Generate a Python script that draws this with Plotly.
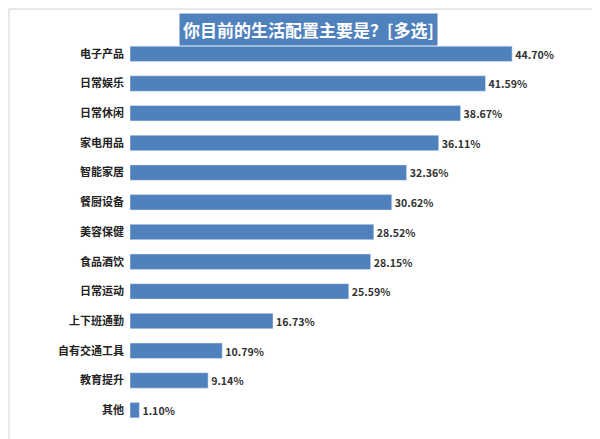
import plotly.graph_objects as go

categories = ["电子产品","日常娱乐","日常休闲","家电用品","智能家居","餐厨设备","美容保健","食品酒饮","日常运动","上下班通勤","自有交通工具","教育提升","其他"]
values = [44.70,41.59,38.67,36.11,32.36,30.62,28.52,28.15,25.59,16.73,10.79,9.14,1.10]
labels = [f"<b>{v:.2f}%</b>" for v in values]

W, L, R, T, B = 600, 122, 42, 31, 22
pw, ph = W - L - R, 439 - T - B

fig = go.Figure(go.Bar(
    x=values, y=categories, orientation="h",
    marker=dict(color="#4F81BD"),
    text=labels, textposition="outside", cliponaxis=False,
    textfont=dict(size=11, color="#333333", family="Noto Sans CJK SC"),
))
fig.update_layout(
    width=600, height=439,
    margin=dict(l=L, r=R, t=T, b=B),
    plot_bgcolor="white", paper_bgcolor="white",
    bargap=0.48, showlegend=False,
    font=dict(family="Noto Sans CJK SC", size=11, color="#222222"),
    xaxis=dict(range=[0, 51], visible=False),
    yaxis=dict(autorange="reversed", showline=False, ticks="", ticksuffix="  ",
               tickprefix="<b>", tickfont=dict(size=11, color="#222222")),
    annotations=[dict(
        text="<b>你目前的生活配置主要是？[多选]</b>", xref="paper", yref="paper",
        x=(300-L)/pw, y=1, yshift=10, showarrow=False, xanchor="center", yanchor="middle",
        bgcolor="#4F81BD", font=dict(color="white", size=17, family="Noto Sans CJK SC"),
        borderpad=3,
    )],
    shapes=[dict(type="rect", xref="paper", yref="paper",
                 x0=(-L+1)/pw, x1=(pw+R-2)/pw, y0=(-B+2)/ph, y1=(ph+T-1)/ph,
                 line=dict(color="#D0D0D0", width=1))],
)
fig.write_html("out.html")
